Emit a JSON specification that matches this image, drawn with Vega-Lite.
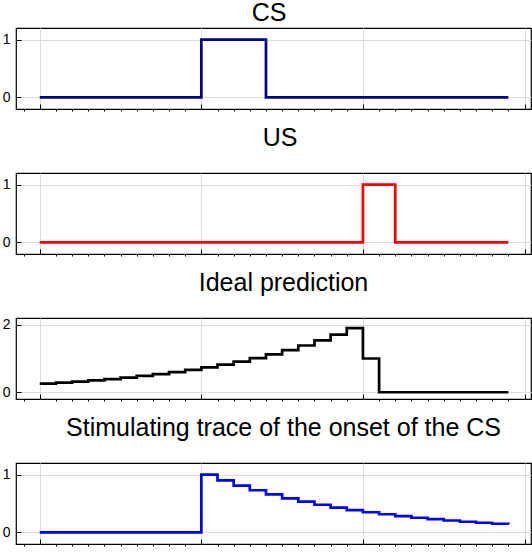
{
  "$schema": "https://vega.github.io/schema/vega-lite/v6.json",
  "padding": {"left": 1, "top": 0, "right": 0, "bottom": 0},
  "background": "white",
  "spacing": 12,
  "config": {
    "view": {"stroke": "black", "strokeWidth": 1.2},
    "title": {"font": "Liberation Sans", "fontSize": 25, "fontWeight": "normal", "color": "black", "anchor": "middle", "frame": "group", "baseline": "alphabetic"},
    "axis": {"domain": false, "labelFont": "Liberation Sans", "labelFontSize": 14, "labelColor": "black", "tickColor": "black", "tickWidth": 1, "gridColor": "#dcdcdc", "gridWidth": 1, "title": null, "format": "d"},
    "axisY": {"tickSize": -5, "labelPadding": 11}
  },
  "datasets": {
    "sig": [
      {"t": 0, "cs": 0, "us": 0, "v": 0.257, "tr": 0},
      {"t": 1, "cs": 0, "us": 0, "v": 0.285, "tr": 0},
      {"t": 2, "cs": 0, "us": 0, "v": 0.317, "tr": 0},
      {"t": 3, "cs": 0, "us": 0, "v": 0.352, "tr": 0},
      {"t": 4, "cs": 0, "us": 0, "v": 0.391, "tr": 0},
      {"t": 5, "cs": 0, "us": 0, "v": 0.435, "tr": 0},
      {"t": 6, "cs": 0, "us": 0, "v": 0.483, "tr": 0},
      {"t": 7, "cs": 0, "us": 0, "v": 0.537, "tr": 0},
      {"t": 8, "cs": 0, "us": 0, "v": 0.596, "tr": 0},
      {"t": 9, "cs": 0, "us": 0, "v": 0.662, "tr": 0},
      {"t": 10, "cs": 1, "us": 0, "v": 0.736, "tr": 1},
      {"t": 11, "cs": 1, "us": 0, "v": 0.818, "tr": 0.9},
      {"t": 12, "cs": 1, "us": 0, "v": 0.909, "tr": 0.81},
      {"t": 13, "cs": 1, "us": 0, "v": 1.01, "tr": 0.729},
      {"t": 14, "cs": 0, "us": 0, "v": 1.122, "tr": 0.656},
      {"t": 15, "cs": 0, "us": 0, "v": 1.247, "tr": 0.59},
      {"t": 16, "cs": 0, "us": 0, "v": 1.385, "tr": 0.531},
      {"t": 17, "cs": 0, "us": 0, "v": 1.539, "tr": 0.478},
      {"t": 18, "cs": 0, "us": 0, "v": 1.71, "tr": 0.43},
      {"t": 19, "cs": 0, "us": 0, "v": 1.9, "tr": 0.387},
      {"t": 20, "cs": 0, "us": 1, "v": 1.0, "tr": 0.349},
      {"t": 21, "cs": 0, "us": 1, "v": 0, "tr": 0.314},
      {"t": 22, "cs": 0, "us": 0, "v": 0, "tr": 0.282},
      {"t": 23, "cs": 0, "us": 0, "v": 0, "tr": 0.254},
      {"t": 24, "cs": 0, "us": 0, "v": 0, "tr": 0.229},
      {"t": 25, "cs": 0, "us": 0, "v": 0, "tr": 0.206},
      {"t": 26, "cs": 0, "us": 0, "v": 0, "tr": 0.185},
      {"t": 27, "cs": 0, "us": 0, "v": 0, "tr": 0.167},
      {"t": 28, "cs": 0, "us": 0, "v": 0, "tr": 0.15},
      {"t": 29, "cs": 0, "us": 0, "v": 0, "tr": 0.135}
    ]
  },
  "data": {"name": "sig"},
  "vconcat": [
    {
      "title": {"text": "CS", "offset": 2.4, "dx": -4.5},
      "width": 515, "height": 81,
      "mark": {"type": "line", "interpolate": "step-after", "color": "#00008b", "strokeWidth": 2.7},
      "encoding": {
        "x": {"field": "t", "type": "quantitative", "scale": {"domain": [-1.47, 30.4], "nice": false, "zero": false},
          "axis": {"values": [-1,0,1,2,3,4,5,6,7,8,9,10,11,12,13,14,15,16,17,18,19,20,21,22,23,24,25,26,27,28,29,30], "labels": false, "grid": true,
            "gridOpacity": {"condition": {"test": "datum.value % 10 === 0", "value": 1}, "value": 0},
            "tickSize": {"condition": {"test": "datum.value % 10 === 0", "value": -5}, "value": 2}}},
        "y": {"field": "cs", "type": "quantitative", "scale": {"domain": [-0.2, 1.2], "nice": false}, "axis": {"values": [0, 1]}}
      }
    },
    {
      "title": {"text": "US", "offset": 22, "dx": 6.5},
      "width": 515, "height": 81,
      "mark": {"type": "line", "interpolate": "step-after", "color": "#ff0000", "strokeWidth": 2.7},
      "encoding": {
        "x": {"field": "t", "type": "quantitative", "scale": {"domain": [-1.47, 30.4], "nice": false, "zero": false},
          "axis": {"values": [-1,0,1,2,3,4,5,6,7,8,9,10,11,12,13,14,15,16,17,18,19,20,21,22,23,24,25,26,27,28,29,30], "labels": false, "grid": true,
            "gridOpacity": {"condition": {"test": "datum.value % 10 === 0", "value": 1}, "value": 0},
            "tickSize": {"condition": {"test": "datum.value % 10 === 0", "value": -5}, "value": 2}}},
        "y": {"field": "us", "type": "quantitative", "scale": {"domain": [-0.2, 1.2], "nice": false}, "axis": {"values": [0, 1]}}
      }
    },
    {
      "title": {"text": "Ideal prediction", "offset": 22, "dx": 10},
      "width": 515, "height": 81,
      "mark": {"type": "line", "interpolate": "step-after", "color": "#000000", "strokeWidth": 2.7},
      "encoding": {
        "x": {"field": "t", "type": "quantitative", "scale": {"domain": [-1.47, 30.4], "nice": false, "zero": false},
          "axis": {"values": [-1,0,1,2,3,4,5,6,7,8,9,10,11,12,13,14,15,16,17,18,19,20,21,22,23,24,25,26,27,28,29,30], "labels": false, "grid": true,
            "gridOpacity": {"condition": {"test": "datum.value % 10 === 0", "value": 1}, "value": 0},
            "tickSize": {"condition": {"test": "datum.value % 10 === 0", "value": -5}, "value": 2}}},
        "y": {"field": "v", "type": "quantitative", "scale": {"domain": [-0.2, 2.2], "nice": false}, "axis": {"values": [0, 2]}}
      }
    },
    {
      "title": {"text": "Stimulating trace of the onset of the CS", "offset": 22, "dx": 10},
      "width": 515, "height": 81,
      "mark": {"type": "line", "interpolate": "step-after", "color": "#0000ff", "strokeWidth": 2.7},
      "encoding": {
        "x": {"field": "t", "type": "quantitative", "scale": {"domain": [-1.47, 30.4], "nice": false, "zero": false},
          "axis": {"values": [-1,0,1,2,3,4,5,6,7,8,9,10,11,12,13,14,15,16,17,18,19,20,21,22,23,24,25,26,27,28,29,30], "labels": false, "grid": true,
            "gridOpacity": {"condition": {"test": "datum.value % 10 === 0", "value": 1}, "value": 0},
            "tickSize": {"condition": {"test": "datum.value % 10 === 0", "value": -5}, "value": 2}}},
        "y": {"field": "tr", "type": "quantitative", "scale": {"domain": [-0.2, 1.2], "nice": false}, "axis": {"values": [0, 1]}}
      }
    }
  ]
}
